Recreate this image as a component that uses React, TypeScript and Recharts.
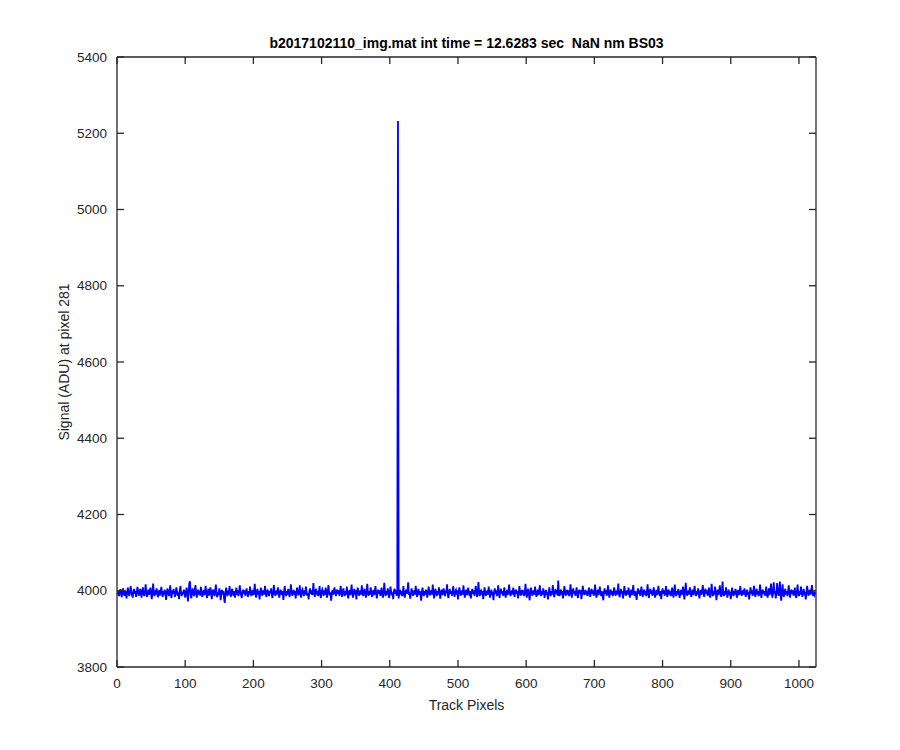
import React from 'react';
import { LineChart, Line, XAxis, YAxis } from 'recharts';

const titleText = 'b2017102110_img.mat int time = 12.6283 sec  NaN nm BS03';
const xLabel = 'Track Pixels';
const yLabel = 'Signal (ADU) at pixel 281';
const xTicks = [0, 100, 200, 300, 400, 500, 600, 700, 800, 900, 1000];
const yTicks = [3800, 4000, 4200, 4400, 4600, 4800, 5000, 5200, 5400];
const xDomain = [0, 1025];
const yDomain = [3800, 5400];

const signal: number[] = [
  3990,3999,3986,3997,4004,3992,3983,3998,4006,3994,3987,4001,3991,3980,3998,4008,3996,3986,3994,4012,4000,3989,3982,3996,4005,3992,4000,3984,3995,4010,3999,3987,
  3996,4005,3991,3982,4000,4009,3992,3986,3997,4017,3996,3984,3993,4003,3989,3999,4008,3991,3978,3998,4019,3994,3986,4001,3990,4006,3996,3983,3993,4002,3987,3997,
  4010,3994,3984,3999,3989,4003,3992,3976,3996,4006,3998,3986,3994,4014,3990,3981,4001,3992,4005,3996,3984,3991,4009,3999,3987,3996,3978,4001,4012,3994,3986,3997,
  3991,4003,3996,3982,3993,4008,3998,3972,3994,4020,4025,3990,3980,3999,4006,3992,3986,4001,4015,3994,3982,3996,4003,3990,3999,3987,4010,3996,3984,3993,4002,3989,
  3997,4013,3992,3981,3996,4005,3987,3999,4009,3991,3978,3997,4003,3994,3986,4001,4016,3992,3983,3996,3989,4006,3998,3975,3994,4002,3990,3999,3980,3968,3993,4008,
  3996,3986,4001,3990,4012,3994,3984,3998,4005,3992,3987,3999,3982,3996,4008,3990,4001,3986,3995,4014,3998,3989,3981,3996,4003,3992,4001,3987,3996,4006,3994,3984,
  3999,3990,4011,3996,3986,3993,4002,3989,3997,4018,3994,3982,3996,4005,3990,3999,3977,3994,4008,3998,3987,3996,4001,3990,4013,3994,3984,3998,4003,3992,3986,3999,
  3994,4006,3989,3981,3996,4015,3998,3987,3993,4001,3990,4009,3996,3982,3994,4003,3989,3999,3993,3976,3998,4012,3994,3986,3999,3990,4005,3996,3984,3993,4017,3997,
  3987,3996,4002,3990,3999,3980,3994,4008,3998,3988,3996,4014,3992,3982,3998,4003,3994,3986,4001,3990,4011,3996,3987,3994,3977,3998,4006,3992,4001,3989,3996,4020,
  3994,3984,3998,4005,3990,3999,3986,3996,4012,3992,3981,3998,4003,3994,3987,4001,3990,4008,3996,3982,3994,4015,3998,3988,3996,3974,3993,4002,3990,3999,4009,3994,
  3986,3998,4003,3992,4001,3987,3996,4013,3994,3984,3998,4006,3992,3986,3999,3990,4011,3996,3980,3993,4002,3989,3997,4016,3994,3982,3996,4005,3990,4001,3977,3996,
  4008,3998,3987,3994,4001,3990,4014,3996,3986,3998,4005,3992,3982,3996,4018,3994,3987,3999,3990,4009,3996,3984,3993,4002,3989,3997,4012,3994,3980,3996,4003,3992,
  4001,3987,3996,4008,3990,3982,3998,4021,3994,3986,3999,3990,4006,3996,3981,3993,4011,3998,3988,3996,3978,3999,4005,3992,4001,3987,3996,5232,3980,3998,4003,3990,
  3999,3986,3994,4012,3990,3982,3996,4003,3992,4001,4022,3989,3996,3979,3994,4006,3998,3987,3993,4001,3990,4013,3996,3984,3994,4005,3989,3999,3993,3974,3996,4008,
  3994,3986,3999,3990,4003,3996,3982,3994,4011,3998,3988,3996,4001,3990,4016,3994,3980,3998,4005,3992,3986,3999,3990,4009,3996,3979,3994,4003,3989,3997,4006,3992,
  3986,4001,3994,4017,3990,3981,3996,4005,3992,3999,3987,3996,4012,3994,3984,3998,4002,3990,4001,3977,3996,4009,3998,3987,3994,4001,3990,4014,3996,3982,3993,4003,
  3989,3997,4008,3994,3986,3999,3980,3996,4005,3992,4001,3987,3994,4013,3998,3984,3993,4023,3996,3986,3998,4003,3990,3999,3978,3994,4009,3996,3987,3994,4001,3990,
  4011,3996,3982,3994,4003,3989,3997,3975,3996,4006,3992,4001,3986,3996,4014,3994,3981,3998,4005,3992,3999,3987,3996,4009,3990,3982,3994,4002,3989,3999,4016,3996,
  3986,3994,4001,3990,4008,3996,3984,3998,4003,3992,3999,3980,3994,4012,3998,3987,3996,4002,3990,4001,3986,3996,4018,3994,3982,3998,4005,3992,3975,3996,4008,3998,
  3987,3994,4001,3990,4011,3996,3984,3993,4003,3989,3997,4014,3994,3986,3999,3990,4006,3996,3981,3994,4002,3989,3997,3977,3996,4009,3992,3986,3999,3990,4015,3996,
  3983,3994,4005,3992,4001,3987,4027,3996,3986,3998,4003,3990,3999,3980,3994,4012,3998,3987,3996,4002,3990,4001,3986,3996,4017,3994,3982,3998,4006,3992,3999,3987,
  3996,4009,3990,3981,3996,4003,3992,4001,3978,3994,4013,3998,3989,3996,4002,3990,3999,3986,3996,4008,3994,3984,3998,4005,3992,4001,3987,3994,4016,3996,3982,3993,
  4003,3989,3997,4011,3994,3986,3999,3990,3975,3996,4006,3992,4001,3987,3996,4014,3994,3982,3998,4003,3990,3999,3986,3996,4009,3998,3987,3994,4001,3990,4019,3996,
  3983,3994,4005,3992,3999,3980,3996,4012,3998,3987,3994,4001,3990,4008,3996,3982,3994,4003,3989,3997,4015,3994,3986,3999,3990,3976,3996,4006,3992,4001,3987,3996,
  4011,3994,3984,3998,4003,3990,3999,3986,3996,4017,3994,3981,3998,4005,3992,4001,3987,3994,4009,3996,3982,3993,4002,3989,3997,4013,3994,3986,3999,3978,3996,4006,
  3992,4001,3987,3996,4012,3994,3984,3998,4003,3990,3999,3986,3996,4008,3994,3982,3998,4016,3992,3986,3999,3990,4005,3996,3981,3994,4002,3989,3997,4011,3994,3977,
  3996,4021,3998,3987,3994,4001,3990,4009,3996,3984,3993,4003,3989,3997,4013,3994,3986,3999,3990,4006,3996,3980,3994,4002,3989,3999,4015,3996,3984,3998,4005,3992,
  4001,3987,3996,4008,3990,3982,3998,4018,3994,3986,3999,3990,4011,3996,3975,3994,4003,3989,3997,4014,3994,3984,3998,4024,3992,3986,3999,3990,4009,3996,3982,3994,
  4003,3989,3997,3978,3996,4008,3994,3986,3999,3990,4005,3996,3982,3994,4002,3989,3997,4012,3994,3987,3996,4001,3990,4006,3996,3984,3993,4003,3989,3997,3977,3996,
  4009,3992,4001,3987,3996,4013,3994,3984,3998,4005,3990,3999,3986,3996,4016,3994,3981,3998,4003,3992,3999,3987,3996,4011,3990,3982,3994,4006,3989,3997,4019,3996,
  3982,3994,4022,3992,3999,3980,3996,4020,3998,3987,3994,4024,3990,3974,3996,4017,3992,3984,3998,4005,3990,3999,3986,3996,4014,3994,3982,3998,4003,3992,4001,3987,
  3996,4008,3990,3981,3996,4016,3992,3986,3999,3990,4011,3996,3984,3994,4005,3989,3997,3977,3994,4013,3998,3987,3996,4003,3990,3999,4015,3994,3986,3998,3990,3996,
];

const data = signal.map((v, i) => ({ pixel: i + 1, value: v }));

const axisColor = '#262626';
const axisWidth = 1.3;
const font = '"Liberation Sans", Arial, Helvetica, sans-serif';
const TICK_LEN = 7;

const BottomTick = (p: any) => (
  <g>
    <line x1={p.x} x2={p.x} y1={p.y} y2={p.y - TICK_LEN} stroke={axisColor} strokeWidth={axisWidth} />
    <text x={p.x} y={p.y + 21} textAnchor="middle" fontFamily={font} fontSize={13.5} fill={axisColor}>
      {p.payload.value}
    </text>
  </g>
);

const LeftTick = (p: any) => (
  <g>
    <line x1={p.x} x2={p.x + TICK_LEN} y1={p.y} y2={p.y} stroke={axisColor} strokeWidth={axisWidth} />
    <text x={p.x - 10} y={p.y + 4.5} textAnchor="end" fontFamily={font} fontSize={13.5} fill={axisColor}>
      {p.payload.value}
    </text>
  </g>
);

const TopTick = (p: any) => (
  <line x1={p.x} x2={p.x} y1={p.y} y2={p.y + TICK_LEN} stroke={axisColor} strokeWidth={axisWidth} />
);

const RightTick = (p: any) => (
  <line x1={p.x} x2={p.x - TICK_LEN} y1={p.y} y2={p.y} stroke={axisColor} strokeWidth={axisWidth} />
);

export default function App() {
  return (
    <div style={{ position: 'absolute', left: 0, top: 0, width: 900, height: 750, background: '#fff' }}>
      <LineChart
        width={900}
        height={750}
        data={data}
        margin={{ top: 56, right: 83, left: 57, bottom: 43 }}
        style={{ fontFamily: font }}
      >
        <XAxis
          xAxisId="bottom"
          dataKey="pixel"
          type="number"
          domain={xDomain}
          ticks={xTicks}
          orientation="bottom"
          height={40}
          allowDataOverflow
          axisLine={{ stroke: axisColor, strokeWidth: axisWidth }}
          tickLine={false}
          tickSize={0}
          tickMargin={0}
          tick={BottomTick}
          interval={0}
        />
        <XAxis
          xAxisId="top"
          dataKey="pixel"
          type="number"
          domain={xDomain}
          ticks={xTicks}
          orientation="top"
          height={1}
          allowDataOverflow
          axisLine={{ stroke: axisColor, strokeWidth: axisWidth }}
          tickLine={false}
          tickSize={0}
          tickMargin={0}
          tick={TopTick}
          interval={0}
        />
        <YAxis
          yAxisId="left"
          type="number"
          domain={yDomain}
          ticks={yTicks}
          orientation="left"
          width={60}
          allowDataOverflow
          axisLine={{ stroke: axisColor, strokeWidth: axisWidth }}
          tickLine={false}
          tickSize={0}
          tickMargin={0}
          tick={LeftTick}
          interval={0}
        />
        <YAxis
          yAxisId="right"
          type="number"
          domain={yDomain}
          ticks={yTicks}
          orientation="right"
          width={1}
          allowDataOverflow
          axisLine={{ stroke: axisColor, strokeWidth: axisWidth }}
          tickLine={false}
          tickSize={0}
          tickMargin={0}
          tick={RightTick}
          interval={0}
        />
        <Line
          xAxisId="top"
          yAxisId="right"
          dataKey="value"
          type="linear"
          stroke="none"
          strokeWidth={0}
          dot={false}
          activeDot={false}
          isAnimationActive={false}
        />
        <Line
          xAxisId="bottom"
          yAxisId="left"
          dataKey="value"
          type="linear"
          stroke="#0000ff"
          strokeWidth={1.8}
          dot={false}
          activeDot={false}
          isAnimationActive={false}
        />
      </LineChart>
      <svg
        width={900}
        height={750}
        style={{ position: 'absolute', left: 0, top: 0, pointerEvents: 'none' }}
      >
        <text
          x={466.5}
          y={48}
          textAnchor="middle"
          fontFamily={font}
          fontSize={14}
          fontWeight="bold"
          fill="#000"
          style={{ whiteSpace: 'pre' }}
        >
          {titleText}
        </text>
        <text x={466.5} y={710} textAnchor="middle" fontFamily={font} fontSize={14} fill={axisColor}>
          {xLabel}
        </text>
        <text
          x={0}
          y={0}
          transform="translate(69, 362) rotate(-90)"
          textAnchor="middle"
          fontFamily={font}
          fontSize={14}
          fill={axisColor}
        >
          {yLabel}
        </text>
      </svg>
    </div>
  );
}
